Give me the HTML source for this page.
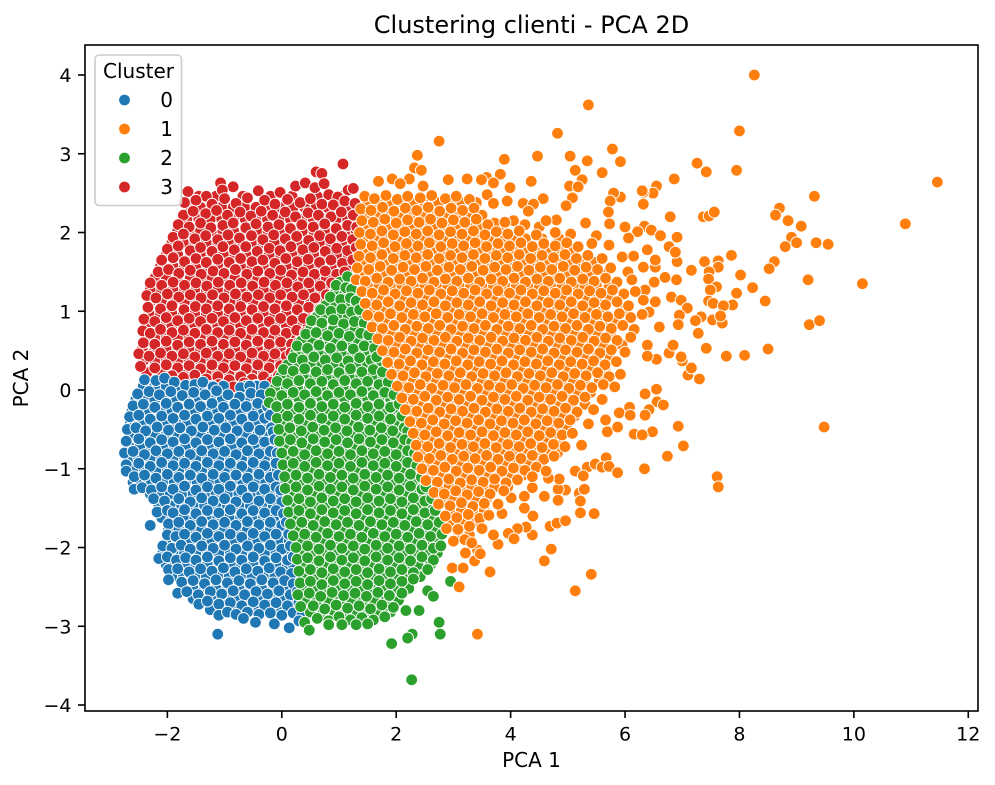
<!DOCTYPE html>
<html lang="en">
<head>
<meta charset="utf-8">
<title>Clustering clienti - PCA 2D</title>
<style>
html,body{margin:0;padding:0;background:#fff}
svg{display:block;font-family:"DejaVu Sans","Liberation Sans",sans-serif}
text{fill:#000}
</style>
</head>
<body>
<svg id="chart" width="995" height="785" viewBox="0 0 995 785">
<rect x="0" y="0" width="995" height="785" fill="#fff"/>
<g id="marks"></g>
<rect x="85" y="45" width="893" height="666" fill="none" stroke="#000" stroke-width="1.6"/>
<g id="ticks"></g>
<text x="531.5" y="33" font-size="24" text-anchor="middle">Clustering clienti - PCA 2D</text>
<text x="531.5" y="767" font-size="20" text-anchor="middle">PCA 1</text>
<text x="0" y="0" font-size="20" text-anchor="middle" transform="translate(28,378) rotate(-90)">PCA 2</text>
<g id="legend">
<rect x="95" y="55" width="86.5" height="150.5" rx="4" fill="#fff" fill-opacity="0.8" stroke="#ccc" stroke-width="1.6"/>
<text x="138.5" y="78" font-size="20" text-anchor="middle">Cluster</text>
</g>
</svg>
<script>
const xTickLabels=[-2,0,2,4,6,8,10,12];
const yTickLabels=[-4,-3,-2,-1,0,1,2,3,4];
const clusterNames=["0","1","2","3"];
const clusterColors=["#1f77b4","#ff7f0e","#2ca02c","#d62728"];
const cluster3=[[-1.07,2.63],[-.85,2.58],[-1.64,2.52],[-1.32,2.46],[-1.04,2.54],[-.41,2.53],[-.03,2.51],[.24,2.59],[.41,2.63],[.6,2.77],[.7,2.75],[.58,2.57],[.74,2.62],[1.07,2.87],[1.16,2.54],[1.25,2.56],[.82,2.48],[.98,2.45],
[-1.7,2.38],[-1.5,2.41],[-1.22,2.36],[-1.0,2.43],[-.8,2.37],[-.6,2.44],[-.3,2.41],[-.12,2.36],[.1,2.42],[.32,2.38],[.5,2.43],[.7,2.36],[.9,2.35],[1.1,2.4],[1.28,2.37],
[-1.72,2.22],[-1.55,2.27],[-1.33,2.24],[-1.14,2.28],[-.95,2.22],[-.73,2.26],[-.54,2.21],[-.36,2.27],[-.16,2.22],[.06,2.26],[.24,2.2],[.46,2.25],[.64,2.22],[.86,2.2],[1.04,2.26],[1.25,2.22],
[-1.81,2.1],[-1.62,2.07],[-1.42,2.12],[-1.24,2.06],[-1.03,2.09],[-.85,2.12],[-.63,2.06],[-.45,2.11],[-.24,2.07],[-.05,2.1],[.15,2.05],[.35,2.1],[.55,2.07],[.75,2.11],[.95,2.05],[1.15,2.09],[1.31,2.07],
[-1.9,1.94],[-1.72,1.98],[-1.52,1.92],[-1.33,1.96],[-1.12,1.91],[-.94,1.97],[-.74,1.93],[-.53,1.96],[-.33,1.91],[-.14,1.97],[.06,1.92],[.26,1.95],[.47,1.9],[.66,1.96],[.85,1.92],[1.05,1.95],[1.24,1.91],
[-2.0,1.79],[-1.81,1.83],[-1.6,1.77],[-1.42,1.81],[-1.22,1.76],[-1.03,1.82],[-.83,1.78],[-.63,1.82],[-.43,1.76],[-.22,1.8],[-.03,1.77],[.16,1.82],[.37,1.78],[.56,1.81],[.76,1.76],[.96,1.8],[1.15,1.77],[1.3,1.81],
[-2.1,1.65],[-1.9,1.68],[-1.7,1.63],[-1.5,1.67],[-1.32,1.62],[-1.12,1.66],[-.92,1.62],[-.72,1.67],[-.52,1.63],[-.33,1.65],[-.12,1.61],[.07,1.67],[.27,1.63],[.46,1.66],[.66,1.62],[.86,1.65],[1.06,1.61],[1.24,1.65],
[-2.16,1.5],[-1.98,1.53],[-1.8,1.48],[-1.6,1.52],[-1.41,1.47],[-1.2,1.51],[-1.01,1.48],[-.81,1.53],[-.61,1.47],[-.42,1.51],[-.21,1.48],[-.02,1.52],[.17,1.46],[.37,1.5],[.57,1.47],[.76,1.51],[.96,1.47],[1.1,1.5],
[-2.3,1.36],[-2.1,1.33],[-1.9,1.37],[-1.7,1.33],[-1.5,1.36],[-1.31,1.32],[-1.11,1.37],[-.91,1.33],[-.71,1.36],[-.51,1.32],[-.31,1.37],[-.11,1.33],[.09,1.36],[.28,1.31],[.47,1.36],[.67,1.32],[.87,1.36],
[-2.36,1.2],[-2.2,1.17],[-2.0,1.22],[-1.8,1.18],[-1.6,1.21],[-1.41,1.17],[-1.21,1.21],[-1.01,1.17],[-.81,1.22],[-.61,1.18],[-.41,1.21],[-.21,1.17],[-.02,1.21],[.18,1.18],[.38,1.21],[.58,1.17],[.78,1.21],
[-2.34,1.05],[-2.12,1.03],[-1.92,1.07],[-1.71,1.02],[-1.51,1.06],[-1.32,1.03],[-1.12,1.07],[-.92,1.03],[-.72,1.06],[-.52,1.02],[-.32,1.06],[-.12,1.03],[.08,1.07],[.27,1.02],[.47,1.05],[.66,1.03],
[-2.41,.9],[-2.22,.87],[-2.02,.92],[-1.82,.88],[-1.62,.91],[-1.42,.87],[-1.22,.91],[-1.02,.87],[-.82,.92],[-.62,.88],[-.42,.91],[-.22,.87],[-.02,.91],[.18,.88],[.38,.91],[.53,.87],
[-2.43,.75],[-2.3,.72],[-2.12,.77],[-1.92,.73],[-1.72,.76],[-1.52,.72],[-1.32,.77],[-1.12,.73],[-.92,.76],[-.72,.72],[-.52,.77],[-.32,.73],[-.12,.76],[.08,.72],[.26,.76],[.41,.73],
[-2.42,.6],[-2.22,.58],[-2.02,.62],[-1.82,.57],[-1.62,.61],[-1.42,.58],[-1.22,.62],[-1.02,.58],[-.82,.61],[-.62,.57],[-.42,.62],[-.22,.58],[-.02,.61],[.17,.58],[.3,.61],
[-2.5,.46],[-2.32,.43],[-2.12,.47],[-1.92,.43],[-1.72,.46],[-1.52,.42],[-1.32,.47],[-1.12,.43],[-.92,.46],[-.72,.42],[-.52,.47],[-.32,.43],[-.12,.46],[.08,.43],[.16,.47],
[-2.47,.3],[-2.22,.28],[-2.02,.32],[-1.82,.28],[-1.62,.31],[-1.42,.27],[-1.22,.32],[-1.02,.28],[-.82,.31],[-.62,.27],[-.42,.32],[-.22,.28],[-.02,.31],[.06,.27],
[-1.92,.18],[-1.72,.16],[-1.52,.19],[-1.32,.14],[-1.12,.17],[-.92,.13],[-.72,.17],[-.52,.14],[-.32,.17],[-.12,.14],[-.06,.18],
[-1.1,.07],[-.85,.04],[-.66,.09],[-.45,.06],[-.25,.03],[-.18,.1]];
const cluster3Rows=[[2.46,-1.45,-1.15,-.68,-.2,.18,.62,1.05],
[2.32,-1.62,-1.42,-1.22,-1.05,-.85,-.65,-.45,-.22,-.02,.2,.4,.6,.8,1.0,1.2],
[2.17,-1.66,-1.45,-1.25,-1.05,-.84,-.64,-.45,-.25,-.05,.15,.35,.55,.75,.95,1.15,1.3],
[2.02,-1.82,-1.62,-1.42,-1.23,-1.03,-.84,-.63,-.43,-.24,-.04,.16,.36,.56,.76,.95,1.15,1.3],
[1.87,-1.92,-1.72,-1.52,-1.32,-1.12,-.93,-.73,-.53,-.33,-.13,.07,.27,.47,.66,.86,1.06,1.25],
[1.72,-2.02,-1.82,-1.6,-1.42,-1.22,-1.02,-.82,-.62,-.42,-.22,-.02,.18,.38,.56,.76,.96,1.16,1.28],
[1.57,-2.12,-1.9,-1.7,-1.5,-1.3,-1.1,-.92,-.72,-.52,-.32,-.12,.08,.28,.47,.67,.87,1.07,1.2],
[1.42,-2.22,-2.02,-1.82,-1.6,-1.42,-1.22,-1.02,-.82,-.62,-.42,-.22,-.02,.18,.38,.58,.78,.96],
[1.27,-2.3,-2.1,-1.9,-1.7,-1.5,-1.32,-1.12,-.92,-.72,-.52,-.32,-.12,.08,.28,.48,.68,.85],
[1.12,-2.3,-2.1,-1.9,-1.7,-1.5,-1.3,-1.1,-.9,-.7,-.5,-.3,-.1,.1,.3,.5,.7],
[.97,-2.32,-2.12,-1.92,-1.72,-1.52,-1.32,-1.12,-.92,-.72,-.52,-.32,-.12,.08,.28,.48,.6],
[.82,-2.36,-2.12,-1.92,-1.72,-1.52,-1.32,-1.12,-.92,-.72,-.52,-.32,-.12,.08,.28,.46],
[.67,-2.38,-2.2,-2.02,-1.82,-1.62,-1.42,-1.22,-1.02,-.82,-.62,-.42,-.22,-.02,.18,.34],
[.52,-2.44,-2.22,-2.02,-1.82,-1.62,-1.42,-1.22,-1.02,-.82,-.62,-.42,-.22,-.02,.18],
[.37,-2.42,-2.22,-2.02,-1.82,-1.62,-1.42,-1.22,-1.02,-.82,-.62,-.42,-.22,-.02,.1],
[.22,-2.36,-2.12,-1.92,-1.72,-1.52,-1.32,-1.12,-.92,-.72,-.52,-.32,-.12,0],
[.1,-1.55,-1.3,-1.0,-.76,-.56,-.36,-.14]];
const cluster0=[[-2.4,.13],[-2.2,.12],[-2.05,.15],[-1.88,.1],[-1.68,.06],[-1.52,.07],[-1.38,.1],[-1.2,.04],
[-.72,.03],[-.56,.05],[-2.52,-.05],[-2.32,-.02],[-2.14,-.06],[-1.94,-.02],[-1.74,-.07],[-1.54,-.03],[-1.34,-.06],[-1.14,-.01],[-.94,-.06],[-.74,-.09],[-.54,-.04],[-.36,-.06],
[-2.6,-.2],[-2.42,-.18],[-2.22,-.22],[-2.02,-.17],[-1.82,-.22],[-1.62,-.18],[-1.42,-.21],[-1.22,-.17],[-1.02,-.22],[-.82,-.18],[-.62,-.21],[-.42,-.17],[-.25,-.21],
[-2.66,-.34],[-2.5,-.32],[-2.3,-.37],[-2.1,-.33],[-1.9,-.36],[-1.7,-.32],[-1.5,-.37],[-1.3,-.33],[-1.1,-.36],[-.9,-.32],[-.7,-.37],[-.5,-.33],[-.3,-.36],[-.2,-.32],
[-2.7,-.5],[-2.55,-.48],[-2.38,-.52],[-2.18,-.47],[-1.98,-.51],[-1.78,-.48],[-1.58,-.52],[-1.38,-.47],[-1.18,-.51],[-.98,-.48],[-.78,-.52],[-.58,-.47],[-.38,-.51],[-.18,-.48],[-.15,-.53],
[-2.72,-.65],[-2.5,-.62],[-2.3,-.67],[-2.1,-.63],[-1.9,-.66],[-1.7,-.62],[-1.5,-.67],[-1.3,-.63],[-1.1,-.66],[-.9,-.62],[-.7,-.67],[-.5,-.63],[-.3,-.66],[-.12,-.63],
[-2.75,-.8],[-2.6,-.78],[-2.4,-.82],[-2.2,-.77],[-2.0,-.81],[-1.8,-.78],[-1.6,-.82],[-1.4,-.77],[-1.2,-.81],[-1.0,-.78],[-.8,-.82],[-.6,-.77],[-.4,-.81],[-.2,-.78],[-.08,-.8],
[-2.72,-.95],[-2.5,-.93],[-2.3,-.97],[-2.1,-.92],[-1.9,-.96],[-1.7,-.93],[-1.5,-.97],[-1.3,-.92],[-1.1,-.96],[-.9,-.93],[-.7,-.97],[-.5,-.92],[-.3,-.96],[-.1,-.93],
[-2.72,-1.03],[-2.58,-1.1],[-2.4,-1.08],[-2.2,-1.12],[-2.0,-1.07],[-1.8,-1.11],[-1.6,-1.08],[-1.4,-1.12],[-1.2,-1.07],[-1.0,-1.11],[-.8,-1.08],[-.6,-1.12],[-.4,-1.07],[-.2,-1.11],[-.06,-1.08],
[-2.58,-1.26],[-2.44,-1.24],[-2.28,-1.27],[-2.1,-1.23],[-1.9,-1.26],[-1.7,-1.22],[-1.5,-1.27],[-1.3,-1.23],[-1.1,-1.26],[-.9,-1.22],[-.7,-1.27],[-.5,-1.23],[-.3,-1.26],[-.1,-1.23],[-.02,-1.27],
[-2.24,-1.38],[-2.05,-1.41],[-1.8,-1.38],[-1.6,-1.42],[-1.4,-1.37],[-1.2,-1.41],[-1.0,-1.38],[-.8,-1.42],[-.6,-1.37],[-.4,-1.41],[-.2,-1.38],[0,-1.42],
[-2.18,-1.55],[-2.0,-1.53],[-1.9,-1.56],[-1.7,-1.52],[-1.5,-1.57],[-1.3,-1.53],[-1.1,-1.56],[-.9,-1.52],[-.7,-1.57],[-.5,-1.53],[-.3,-1.56],[-.1,-1.53],[.03,-1.57],
[-2.3,-1.72],[-1.98,-1.7],[-1.8,-1.68],[-1.6,-1.72],[-1.4,-1.67],[-1.2,-1.71],[-1.0,-1.68],[-.8,-1.72],[-.6,-1.67],[-.4,-1.71],[-.2,-1.68],[0,-1.72],[.08,-1.68],
[-2.0,-1.84],[-1.85,-1.86],[-1.7,-1.83],[-1.5,-1.87],[-1.3,-1.82],[-1.1,-1.86],[-.9,-1.83],[-.7,-1.87],[-.5,-1.82],[-.3,-1.86],[-.1,-1.83],[.12,-1.83],
[-2.08,-1.98],[-1.92,-2.01],[-1.76,-1.97],[-1.6,-2.02],[-1.4,-1.98],[-1.2,-2.01],[-1.0,-1.97],[-.8,-2.02],[-.6,-1.98],[-.4,-2.01],[-.2,-1.97],[0,-2.02],[.15,-1.98],
[-2.15,-2.14],[-2.0,-2.12],[-1.84,-2.16],[-1.68,-2.13],[-1.5,-2.16],[-1.3,-2.12],[-1.1,-2.17],[-.9,-2.13],[-.7,-2.16],[-.5,-2.12],[-.3,-2.17],[-.1,-2.13],[.1,-2.16],[.2,-2.12],
[-1.98,-2.28],[-1.82,-2.27],[-1.62,-2.31],[-1.42,-2.27],[-1.22,-2.3],[-1.02,-2.26],[-.82,-2.31],[-.62,-2.27],[-.42,-2.3],[-.22,-2.26],[-.02,-2.31],[.17,-2.33],
[-1.98,-2.41],[-1.75,-2.44],[-1.55,-2.42],[-1.35,-2.46],[-1.15,-2.41],[-.95,-2.45],[-.75,-2.42],[-.55,-2.46],[-.35,-2.41],[-.15,-2.45],[.05,-2.42],[.2,-2.46],
[-1.82,-2.58],[-1.66,-2.56],[-1.46,-2.6],[-1.25,-2.56],[-1.05,-2.59],[-.85,-2.55],[-.65,-2.6],[-.45,-2.56],[-.25,-2.59],[-.05,-2.55],[.15,-2.6],[.27,-2.56],
[-1.45,-2.72],[-1.3,-2.68],[-1.1,-2.72],[-.9,-2.7],[-.7,-2.74],[-.5,-2.69],[-.3,-2.73],[-.1,-2.7],[.1,-2.74],[.3,-2.7],
[-1.1,-2.86],[-.95,-2.82],[-.8,-2.85],[-.6,-2.82],[-.4,-2.85],[-.2,-2.83],[0,-2.86],[.2,-2.83],[.35,-2.86],
[-.67,-2.9],[-.46,-2.95],[-.13,-2.97],[.13,-3.02],[.3,-2.93],[-1.12,-3.1]];
const cluster0Rows=[[.05,-2.42,-2.22,-2.02,-1.82,-1.6,-1.42,-1.22,-1.02,-.62,-.44,-.3],
[-.12,-2.55,-2.42,-2.22,-2.02,-1.84,-1.64,-1.44,-1.24,-1.04,-.84,-.64,-.44,-.27],
[-.27,-2.62,-2.5,-2.32,-2.12,-1.92,-1.72,-1.52,-1.32,-1.12,-.92,-.72,-.52,-.32,-.22],
[-.42,-2.65,-2.45,-2.25,-2.05,-1.85,-1.65,-1.45,-1.25,-1.05,-.85,-.65,-.45,-.25,-.17],
[-.57,-2.65,-2.42,-2.22,-2.02,-1.82,-1.62,-1.42,-1.22,-1.02,-.82,-.62,-.42,-.22,-.13],
[-.72,-2.67,-2.48,-2.28,-2.08,-1.88,-1.68,-1.48,-1.28,-1.08,-.88,-.68,-.48,-.28,-.1],
[-.87,-2.66,-2.5,-2.3,-2.1,-1.9,-1.7,-1.5,-1.3,-1.1,-.9,-.7,-.5,-.3,-.1],
[-1.02,-2.6,-2.4,-2.2,-2.0,-1.8,-1.6,-1.4,-1.2,-1.0,-.8,-.6,-.4,-.2,-.08],
[-1.17,-2.6,-2.48,-2.28,-2.08,-1.88,-1.68,-1.48,-1.28,-1.08,-.88,-.68,-.48,-.28,-.08],
[-1.32,-2.3,-2.15,-1.95,-1.75,-1.55,-1.35,-1.15,-.95,-.75,-.55,-.35,-.15,-.01],
[-1.47,-2.15,-1.95,-1.75,-1.55,-1.35,-1.15,-.95,-.75,-.55,-.35,-.15,.02],
[-1.62,-2.1,-1.92,-1.72,-1.52,-1.32,-1.12,-.92,-.72,-.52,-.32,-.12,.06],
[-1.77,-1.98,-1.8,-1.6,-1.4,-1.2,-1.0,-.8,-.6,-.4,-.2,0,.1],
[-1.92,-2.0,-1.82,-1.62,-1.42,-1.22,-1.02,-.82,-.62,-.42,-.22,-.02,.13],
[-2.07,-2.08,-1.9,-1.7,-1.5,-1.3,-1.1,-.9,-.7,-.5,-.3,-.1,.1,.17],
[-2.22,-2.02,-1.88,-1.7,-1.5,-1.3,-1.1,-.9,-.7,-.5,-.3,-.1,.1,.2],
[-2.37,-1.92,-1.72,-1.52,-1.32,-1.12,-.92,-.72,-.52,-.32,-.12,.08,.2],
[-2.52,-1.75,-1.55,-1.35,-1.15,-.95,-.75,-.55,-.35,-.15,.05,.25],
[-2.65,-1.55,-1.35,-1.15,-.95,-.75,-.55,-.35,-.15,.05,.25],
[-2.79,-1.25,-1.0,-.8,-.6,-.4,-.2,0,.2,.33]];
const cluster2=[[1.15,1.44],[.95,1.33],[1.12,1.3],[1.22,1.28],[.85,1.18],[1.03,1.15],[1.2,1.17],[1.3,1.13],[.68,1.02],[.86,1.0],[1.05,1.03],[1.22,.99],[1.36,1.02],
[.52,.88],[.7,.85],[.9,.89],[1.08,.84],[1.27,.87],[1.44,.85],[.42,.71],[.6,.73],[.8,.69],[1.0,.72],[1.18,.68],[1.38,.72],[1.52,.7],
[.27,.56],[.45,.53],[.65,.57],[.85,.53],[1.05,.56],[1.25,.52],[1.44,.56],[1.62,.53],[.2,.41],[.36,.38],[.56,.42],[.76,.38],[.96,.41],[1.16,.37],[1.36,.41],[1.56,.38],[1.66,.42],
[0.03,.26],[.2,.24],[.4,.27],[.6,.23],[.8,.26],[1.0,.22],[1.2,.27],[1.4,.23],[1.6,.26],[1.76,.23],[-.08,.11],[.1,.08],[.3,.12],[.5,.08],[.7,.11],[.9,.07],[1.1,.12],[1.3,.08],[1.5,.11],[1.7,.07],[1.86,.1],
[-.2,-.04],[0,-.07],[.2,-.03],[.4,-.06],[.6,-.02],[.8,-.07],[1.0,-.03],[1.2,-.06],[1.4,-.02],[1.6,-.07],[1.8,-.03],[1.96,-.06],
[-.22,-.16],[-.09,-.21],[.1,-.18],[.3,-.22],[.5,-.17],[.7,-.21],[.9,-.18],[1.1,-.22],[1.3,-.17],[1.5,-.21],[1.7,-.18],[1.9,-.22],[2.05,-.18],
[-.08,-.36],[.1,-.33],[.3,-.37],[.5,-.32],[.7,-.36],[.9,-.33],[1.1,-.37],[1.3,-.32],[1.5,-.36],[1.7,-.33],[1.9,-.37],[2.1,-.33],
[-.05,-.5],[.14,-.48],[.34,-.52],[.54,-.47],[.74,-.51],[.94,-.48],[1.14,-.52],[1.34,-.47],[1.54,-.51],[1.74,-.48],[1.94,-.52],[2.14,-.48],[2.2,-.52],
[-.04,-.65],[.15,-.63],[.35,-.67],[.55,-.62],[.75,-.66],[.95,-.63],[1.15,-.67],[1.35,-.62],[1.55,-.66],[1.75,-.63],[1.95,-.67],[2.15,-.63],[2.27,-.66],
[0,-.8],[.2,-.78],[.4,-.82],[.6,-.77],[.8,-.81],[1.0,-.78],[1.2,-.82],[1.4,-.77],[1.6,-.81],[1.8,-.78],[2.0,-.82],[2.2,-.77],[2.32,-.8],
[.02,-.95],[.2,-.93],[.4,-.97],[.6,-.92],[.8,-.96],[1.0,-.93],[1.2,-.97],[1.4,-.92],[1.6,-.96],[1.8,-.93],[2.0,-.97],[2.2,-.92],[2.36,-.96],
[.05,-1.1],[.25,-1.08],[.45,-1.12],[.65,-1.07],[.85,-1.11],[1.05,-1.08],[1.25,-1.12],[1.45,-1.07],[1.65,-1.11],[1.85,-1.08],[2.05,-1.12],[2.25,-1.07],[2.44,-1.11],
[.06,-1.25],[.25,-1.23],[.45,-1.27],[.65,-1.22],[.85,-1.26],[1.05,-1.23],[1.25,-1.27],[1.45,-1.22],[1.65,-1.26],[1.85,-1.23],[2.05,-1.27],[2.25,-1.22],[2.45,-1.26],[2.52,-1.23],
[.1,-1.4],[.3,-1.38],[.5,-1.42],[.7,-1.37],[.9,-1.41],[1.1,-1.38],[1.3,-1.42],[1.5,-1.37],[1.7,-1.41],[1.9,-1.38],[2.1,-1.42],[2.3,-1.37],[2.5,-1.41],[2.62,-1.38],
[.12,-1.55],[.3,-1.53],[.5,-1.57],[.7,-1.52],[.9,-1.56],[1.1,-1.53],[1.3,-1.57],[1.5,-1.52],[1.7,-1.56],[1.9,-1.53],[2.1,-1.57],[2.3,-1.52],[2.5,-1.56],[2.68,-1.53],
[.15,-1.7],[.35,-1.68],[.55,-1.72],[.75,-1.67],[.95,-1.71],[1.15,-1.68],[1.35,-1.72],[1.55,-1.67],[1.75,-1.71],[1.95,-1.68],[2.15,-1.72],[2.35,-1.67],[2.55,-1.71],[2.75,-1.68],
[.2,-1.85],[.4,-1.83],[.6,-1.87],[.8,-1.82],[1.0,-1.86],[1.2,-1.83],[1.4,-1.87],[1.6,-1.82],[1.8,-1.86],[2.0,-1.83],[2.2,-1.87],[2.4,-1.82],[2.6,-1.86],[2.8,-1.83],
[.25,-2.0],[.45,-1.98],[.65,-2.02],[.85,-1.97],[1.05,-2.01],[1.25,-1.98],[1.45,-2.02],[1.65,-1.97],[1.85,-2.01],[2.05,-1.98],[2.25,-2.02],[2.45,-1.97],[2.65,-2.01],[2.78,-1.98],
[.27,-2.15],[.45,-2.13],[.65,-2.17],[.85,-2.12],[1.05,-2.16],[1.25,-2.13],[1.45,-2.17],[1.65,-2.12],[1.85,-2.16],[2.05,-2.13],[2.25,-2.17],[2.45,-2.12],[2.65,-2.16],
[.3,-2.3],[.5,-2.28],[.7,-2.32],[.9,-2.27],[1.1,-2.31],[1.3,-2.28],[1.5,-2.32],[1.7,-2.27],[1.9,-2.31],[2.1,-2.28],[2.3,-2.32],[2.55,-2.28],
[.32,-2.45],[.5,-2.43],[.7,-2.47],[.9,-2.42],[1.1,-2.46],[1.3,-2.43],[1.5,-2.47],[1.7,-2.42],[1.9,-2.46],[2.1,-2.43],[2.3,-2.4],[2.95,-2.43],
[.28,-2.6],[.48,-2.58],[.68,-2.62],[.88,-2.57],[1.08,-2.61],[1.28,-2.58],[1.48,-2.62],[1.68,-2.57],[1.88,-2.61],[2.1,-2.58],[2.55,-2.55],[2.65,-2.62],
[.33,-2.75],[.55,-2.74],[.75,-2.78],[.95,-2.73],[1.15,-2.77],[1.35,-2.74],[1.55,-2.78],[1.75,-2.73],[1.95,-2.76],[2.17,-2.8],[2.4,-2.8],
[.4,-2.95],[.62,-2.9],[.82,-2.93],[1.0,-2.88],[1.2,-2.92],[1.4,-2.89],[1.6,-2.92],[1.8,-2.88],[.48,-3.05],[.82,-2.98],[1.05,-2.98],[1.3,-2.98],[1.5,-2.97],
[2.75,-2.95],[2.77,-3.1],[2.28,-3.1],[2.2,-3.15],[1.92,-3.22],[2.27,-3.68]];
const cluster2Rows=[[1.37,1.02,1.18],
[1.22,.92,1.1,1.26],
[1.07,.76,.94,1.12,1.3],
[.92,.6,.78,.98,1.16,1.36],
[.77,.5,.7,.9,1.08,1.28,1.46],
[.62,.34,.54,.74,.94,1.14,1.34,1.54],
[.47,.24,.44,.64,.84,1.04,1.24,1.44,1.64],
[.32,.1,.3,.5,.7,.9,1.1,1.3,1.5,1.7],
[.17,-.02,.18,.38,.58,.78,.98,1.18,1.38,1.58,1.78],
[.02,-.12,.08,.28,.48,.68,.88,1.08,1.28,1.48,1.68,1.88],
[-.11,-.12,.1,.3,.5,.7,.9,1.1,1.3,1.5,1.7,1.9,2.0],
[-.27,-.02,.18,.38,.58,.78,.98,1.18,1.38,1.58,1.78,1.98,2.08],
[-.42,.02,.2,.4,.6,.8,1.0,1.2,1.4,1.6,1.8,2.0,2.17],
[-.57,.04,.24,.44,.64,.84,1.04,1.24,1.44,1.64,1.84,2.04,2.22],
[-.72,.06,.26,.46,.66,.86,1.06,1.26,1.46,1.66,1.86,2.06,2.28],
[-.87,.1,.3,.5,.7,.9,1.1,1.3,1.5,1.7,1.9,2.1,2.3],
[-1.02,.1,.3,.5,.7,.9,1.1,1.3,1.5,1.7,1.9,2.1,2.32],
[-1.17,.14,.34,.54,.74,.94,1.14,1.34,1.54,1.74,1.94,2.14,2.36,2.48],
[-1.32,.16,.36,.56,.76,.96,1.16,1.36,1.56,1.76,1.96,2.16,2.36,2.56],
[-1.47,.2,.4,.6,.8,1.0,1.2,1.4,1.6,1.8,2.0,2.2,2.4,2.62],
[-1.62,.22,.42,.62,.82,1.02,1.22,1.42,1.62,1.82,2.02,2.22,2.42,2.64],
[-1.77,.25,.45,.65,.85,1.05,1.25,1.45,1.65,1.85,2.05,2.25,2.45,2.68],
[-1.92,.3,.5,.7,.9,1.1,1.3,1.5,1.7,1.9,2.1,2.3,2.5,2.72],
[-2.07,.35,.55,.75,.95,1.15,1.35,1.55,1.75,1.95,2.15,2.35,2.55,2.72],
[-2.22,.38,.58,.78,.98,1.18,1.38,1.58,1.78,1.98,2.18,2.38,2.6],
[-2.37,.4,.6,.8,1.0,1.2,1.4,1.6,1.8,2.0,2.2,2.42],
[-2.52,.38,.6,.8,1.0,1.2,1.4,1.6,1.8,2.0,2.22],
[-2.67,.4,.62,.82,1.02,1.22,1.42,1.62,1.82,2.04],
[-2.82,.5,.72,.92,1.12,1.32,1.52,1.72,1.9]];
const cluster1=[[8.26,4.0],[8.0,3.29],[7.26,2.88],[7.42,2.77],[7.95,2.79],[11.46,2.64],[6.86,2.68],[6.55,2.59],[6.49,2.5],[6.32,2.51],[6.32,2.36],[9.31,2.46],[10.9,2.11],[8.7,2.31],[8.63,2.22],[8.85,2.15],[9.08,2.08],[8.91,1.94],[9.0,1.87],[8.8,1.82],[9.34,1.87],[9.55,1.85],[6.79,2.2],[7.37,2.2],[7.47,2.21],[7.56,2.26],[7.86,1.71],[8.61,1.63],[8.52,1.54],[9.2,1.4],[10.15,1.35],[8.02,1.46],[8.23,1.3],[8.45,1.13],[7.95,1.23],[7.88,1.08],[9.22,.83],[9.4,.88],[8.5,.52],[8.09,.44],[7.77,.43],[7.42,.53],[9.48,-.47],[6.93,-.46],[7.02,-.71],[6.74,-.84],[6.48,-.53],[7.61,-1.1],[7.63,-1.23],[6.34,-1.0],[6.55,.01],[6.35,-.05],[6.56,-.15],[6.67,-.19],[6.42,-.25],[6.35,-.32],[7.1,.19],[7.3,.14],[7.16,.28],[7.0,.37],[6.98,.42],[6.77,.47],[6.84,.57],[6.55,.39],[6.39,.57],[6.39,.43],
[7.39,1.63],[7.63,1.64],[7.63,1.56],[7.47,1.5],[7.46,1.41],[7.6,1.31],[7.49,1.27],[7.16,1.52],[6.91,1.63],[6.9,1.4],[6.7,1.43],[6.53,1.56],[6.51,1.37],[7.46,1.13],[7.54,1.1],[7.72,1.07],[6.81,1.18],[6.98,1.14],[7.09,1.04],[6.95,.95],[6.93,.83],[6.6,.8],[6.53,1.12],[6.42,.99],[7.33,.93],[7.23,.88],[7.53,.89],[7.7,.85],[7.28,.72],[7.67,.94],[6.34,2.08],[6.46,2.03],[6.62,1.96],[6.91,1.94],[6.77,1.82],[6.39,1.78],[6.88,1.75],[6.53,1.65],[6.32,1.56],[6.35,1.27],[6.32,1.14],
[5.46,-1.57],[5.22,-1.56],[5.41,-2.34],[5.13,-2.55],[4.69,-1.73],[4.81,-1.69],[4.96,-1.66],[4.71,-2.02],[4.59,-2.17],[4.39,-1.6],[4.38,-1.84],[4.27,-1.74],[4.12,-1.76],[3.96,-1.82],[4.06,-1.89],[3.78,-1.96],[3.7,-1.84],[3.64,-2.31],[3.42,-3.1],[3.1,-2.5],[2.98,-2.26],[3.17,-2.26],[3.37,-2.17],[3.42,-2.03],[3.21,-2.07],[3.47,-2.08],[5.13,-1.03],[5.34,-.98],[5.48,-.94],[5.67,-.86],[5.6,-.98],[5.72,-.97],[5.87,-1.05],[5.27,-1.09],[5.2,-1.31],[5.29,-1.26],[5.22,-1.41],[4.96,-1.27],[4.83,-1.26],[4.83,-1.4],[4.59,-1.35],[4.38,-1.24],[4.24,-1.35],[4.24,-1.5],[4.01,-1.37],[3.85,-1.57],[4.85,-1.13],[4.66,-1.12],[6.16,-.56],[6.3,-.57],[6.08,-.22],[5.24,-.7],[4.82,-.8],[5.69,-.53],[5.87,-.47],[5.66,-.38],[5.36,-.43],[5.9,-.29],[6.09,-.32],
[5.36,3.62],[2.75,3.16],[4.82,3.26],[2.37,2.98],[2.32,2.82],[2.44,2.79],[5.78,3.06],[5.92,2.9],[5.6,2.76],[5.04,2.97],[5.34,2.91],[4.47,2.97],[3.89,2.93],[5.13,2.79],[5.25,2.67],[5.03,2.59],[5.18,2.58],[3.82,2.74],[3.58,2.7],[3.49,2.67],[3.7,2.63],[3.99,2.57],[4.36,2.65],[3.24,2.68],[2.91,2.67],[1.69,2.65],[1.93,2.68],[2.23,2.68],[2.07,2.62],[2.47,2.59],[6.3,2.53],[5.92,2.45],[5.8,2.5],[5.74,2.4],[4.57,2.43],[4.22,2.37],[4.4,2.36],[4.31,2.27],[3.94,2.4],[3.59,2.48],[3.7,2.37],[5.08,2.44],[4.97,2.34],[5.71,2.26],[4.05,2.15],[3.72,2.12],[4.8,2.16],[4.62,2.15],[5.31,2.12],[5.73,2.11],[6.0,2.07],[6.22,2.01],[6.06,1.93],[5.95,1.69],
[1.45,2.46],[1.62,2.43],[1.82,2.47],[2.02,2.42],[2.2,2.46],[2.42,2.44],[2.62,2.47],[2.86,2.43],[3.05,2.46],[3.28,2.42],
[1.38,2.3],[1.56,2.28],[1.76,2.32],[1.96,2.27],[2.16,2.31],[2.36,2.28],[2.56,2.32],[2.76,2.27],[2.96,2.31],[3.16,2.28],[3.36,2.31],
[1.4,2.15],[1.6,2.13],[1.8,2.17],[2.0,2.12],[2.2,2.16],[2.4,2.13],[2.6,2.17],[2.8,2.12],[3.0,2.16],[3.2,2.13],[3.4,2.17],[3.6,2.1],[3.9,2.13],[4.25,2.1],
[1.36,2.0],[1.55,1.98],[1.75,2.02],[1.95,1.97],[2.15,2.01],[2.35,1.98],[2.55,2.02],[2.75,1.97],[2.95,2.01],[3.15,1.98],[3.35,2.02],[3.55,1.97],[3.75,2.01],[3.95,1.98],[4.15,2.02],[4.45,1.97],[4.78,2.0],[5.05,1.98],[5.5,1.96],
[1.38,1.85],[1.58,1.83],[1.78,1.87],[1.98,1.82],[2.18,1.86],[2.38,1.83],[2.58,1.87],[2.78,1.82],[2.98,1.86],[3.18,1.83],[3.38,1.87],[3.58,1.82],[3.78,1.86],[3.98,1.83],[4.18,1.87],[4.38,1.82],[4.58,1.86],[4.78,1.83],[4.98,1.87],[5.18,1.82],[5.42,1.86],[5.72,1.84],
[1.35,1.7],[1.55,1.68],[1.75,1.72],[1.95,1.67],[2.15,1.71],[2.35,1.68],[2.55,1.72],[2.75,1.67],[2.95,1.71],[3.15,1.68],[3.35,1.72],[3.55,1.67],[3.75,1.71],[3.95,1.68],[4.15,1.72],[4.35,1.67],[4.55,1.71],[4.75,1.68],[4.95,1.72],[5.15,1.67],[5.35,1.71],[5.6,1.67],[6.15,1.7],
[1.32,1.55],[1.52,1.53],[1.72,1.57],[1.92,1.52],[2.12,1.56],[2.32,1.53],[2.52,1.57],[2.72,1.52],[2.92,1.56],[3.12,1.53],[3.32,1.57],[3.52,1.52],[3.72,1.56],[3.92,1.53],[4.12,1.57],[4.32,1.52],[4.52,1.56],[4.72,1.53],[4.92,1.57],[5.12,1.52],[5.32,1.56],[5.52,1.53],[5.75,1.55],[6.05,1.5],
[1.3,1.4],[1.46,1.38],[1.66,1.42],[1.86,1.37],[2.06,1.41],[2.26,1.38],[2.46,1.42],[2.66,1.37],[2.86,1.41],[3.06,1.38],[3.26,1.42],[3.46,1.37],[3.66,1.41],[3.86,1.38],[4.06,1.42],[4.26,1.37],[4.46,1.41],[4.66,1.38],[4.86,1.42],[5.06,1.37],[5.26,1.41],[5.46,1.38],[5.66,1.42],[5.86,1.37],[6.12,1.4],
[1.4,1.25],[1.58,1.23],[1.78,1.27],[1.98,1.22],[2.18,1.26],[2.38,1.23],[2.58,1.27],[2.78,1.22],[2.98,1.26],[3.18,1.23],[3.38,1.27],[3.58,1.22],[3.78,1.26],[3.98,1.23],[4.18,1.27],[4.38,1.22],[4.58,1.26],[4.78,1.23],[4.98,1.27],[5.18,1.22],[5.38,1.26],[5.58,1.23],[5.78,1.27],[5.98,1.22],[6.18,1.25],
[1.46,1.1],[1.66,1.08],[1.86,1.12],[2.06,1.07],[2.26,1.11],[2.46,1.08],[2.66,1.12],[2.86,1.07],[3.06,1.11],[3.26,1.08],[3.46,1.12],[3.66,1.07],[3.86,1.11],[4.06,1.08],[4.26,1.12],[4.46,1.07],[4.66,1.11],[4.86,1.08],[5.06,1.12],[5.26,1.07],[5.46,1.11],[5.66,1.08],[5.86,1.12],[6.06,1.07],
[1.5,.95],[1.7,.93],[1.9,.97],[2.1,.92],[2.3,.96],[2.5,.93],[2.7,.97],[2.9,.92],[3.1,.96],[3.3,.93],[3.5,.97],[3.7,.92],[3.9,.96],[4.1,.93],[4.3,.97],[4.5,.92],[4.7,.96],[4.9,.93],[5.1,.97],[5.3,.92],[5.5,.96],[5.7,.93],[5.9,.97],[6.1,.92],[6.3,.96],
[1.58,.8],[1.76,.78],[1.96,.82],[2.16,.77],[2.36,.81],[2.56,.78],[2.76,.82],[2.96,.77],[3.16,.81],[3.36,.78],[3.56,.82],[3.76,.77],[3.96,.81],[4.16,.78],[4.36,.82],[4.56,.77],[4.76,.81],[4.96,.78],[5.16,.82],[5.36,.77],[5.56,.81],[5.76,.78],[5.96,.82],[6.16,.77],
[1.68,.65],[1.86,.63],[2.06,.67],[2.26,.62],[2.46,.66],[2.66,.63],[2.86,.67],[3.06,.62],[3.26,.66],[3.46,.63],[3.66,.67],[3.86,.62],[4.06,.66],[4.26,.63],[4.46,.67],[4.66,.62],[4.86,.66],[5.06,.63],[5.26,.67],[5.46,.62],[5.66,.66],[5.86,.63],[6.1,.67],
[1.76,.5],[1.96,.48],[2.16,.52],[2.36,.47],[2.56,.51],[2.76,.48],[2.96,.52],[3.16,.47],[3.36,.51],[3.56,.48],[3.76,.52],[3.96,.47],[4.16,.51],[4.36,.48],[4.56,.52],[4.76,.47],[4.96,.51],[5.16,.48],[5.36,.52],[5.56,.47],[5.76,.51],[6.0,.48],
[1.85,.35],[2.05,.33],[2.25,.37],[2.45,.32],[2.65,.36],[2.85,.33],[3.05,.37],[3.25,.32],[3.45,.36],[3.65,.33],[3.85,.37],[4.05,.32],[4.25,.36],[4.45,.33],[4.65,.37],[4.85,.32],[5.05,.36],[5.25,.33],[5.45,.37],[5.65,.32],[5.85,.36],
[1.92,.2],[2.12,.18],[2.32,.22],[2.52,.17],[2.72,.21],[2.92,.18],[3.12,.22],[3.32,.17],[3.52,.21],[3.72,.18],[3.92,.22],[4.12,.17],[4.32,.21],[4.52,.18],[4.72,.22],[4.92,.17],[5.12,.21],[5.32,.18],[5.52,.22],[5.72,.17],[5.92,.2],
[2.02,.05],[2.22,.03],[2.42,.07],[2.62,.02],[2.82,.06],[3.02,.03],[3.22,.07],[3.42,.02],[3.62,.06],[3.82,.03],[4.02,.07],[4.22,.02],[4.42,.06],[4.62,.03],[4.82,.07],[5.02,.02],[5.22,.06],[5.42,.03],[5.62,.07],[5.82,.04],
[2.1,-.1],[2.3,-.12],[2.5,-.08],[2.7,-.13],[2.9,-.09],[3.1,-.12],[3.3,-.08],[3.5,-.13],[3.7,-.09],[3.9,-.12],[4.1,-.08],[4.3,-.13],[4.5,-.09],[4.7,-.12],[4.9,-.08],[5.1,-.13],[5.3,-.09],[5.6,-.12],
[2.16,-.25],[2.36,-.27],[2.56,-.23],[2.76,-.28],[2.96,-.24],[3.16,-.27],[3.36,-.23],[3.56,-.28],[3.76,-.24],[3.96,-.27],[4.16,-.23],[4.36,-.28],[4.56,-.24],[4.76,-.27],[4.96,-.23],[5.16,-.28],[5.45,-.25],
[2.24,-.4],[2.44,-.42],[2.64,-.38],[2.84,-.43],[3.04,-.39],[3.24,-.42],[3.44,-.38],[3.64,-.43],[3.84,-.39],[4.04,-.42],[4.24,-.38],[4.44,-.43],[4.64,-.39],[4.84,-.42],[5.04,-.38],
[2.3,-.55],[2.5,-.57],[2.7,-.53],[2.9,-.58],[3.1,-.54],[3.3,-.57],[3.5,-.53],[3.7,-.58],[3.9,-.54],[4.1,-.57],[4.3,-.53],[4.5,-.58],[4.7,-.54],[4.9,-.57],[5.08,-.55],
[2.35,-.7],[2.55,-.72],[2.75,-.68],[2.95,-.73],[3.15,-.69],[3.35,-.72],[3.55,-.68],[3.75,-.73],[3.95,-.69],[4.15,-.72],[4.35,-.68],[4.55,-.73],[4.75,-.69],[4.95,-.72],
[2.38,-.85],[2.58,-.87],[2.78,-.83],[2.98,-.88],[3.18,-.84],[3.38,-.87],[3.58,-.83],[3.78,-.88],[3.98,-.84],[4.18,-.87],[4.38,-.83],[4.58,-.88],[4.76,-.84],
[2.45,-1.0],[2.65,-1.02],[2.85,-.98],[3.05,-1.03],[3.25,-.99],[3.45,-1.02],[3.65,-.98],[3.85,-1.03],[4.05,-.99],[4.25,-1.02],[4.45,-.98],[4.62,-1.03],
[2.52,-1.15],[2.72,-1.17],[2.92,-1.13],[3.12,-1.18],[3.32,-1.14],[3.52,-1.17],[3.72,-1.13],[3.92,-1.18],[4.12,-1.14],[4.38,-1.1],
[2.66,-1.3],[2.84,-1.32],[3.04,-1.28],[3.24,-1.33],[3.44,-1.29],[3.64,-1.32],[3.88,-1.28],
[2.74,-1.45],[2.94,-1.47],[3.14,-1.43],[3.34,-1.48],[3.54,-1.44],[3.78,-1.45],
[2.86,-1.6],[3.06,-1.62],[3.26,-1.58],[3.46,-1.63],[3.62,-1.59],
[2.88,-1.76],[3.08,-1.77],[3.28,-1.73],[3.5,-1.76],
[3.0,-1.92],[3.2,-1.9],[3.32,-1.94]];
const cluster1Rows=[[2.38,1.5,1.7,1.9,2.1,2.3,2.5,2.74,2.95,3.15,3.4],
[2.22,1.46,1.66,1.86,2.06,2.26,2.46,2.66,2.86,3.06,3.26,3.5],
[2.07,1.45,1.65,1.85,2.05,2.25,2.45,2.65,2.85,3.05,3.25,3.45,3.65,3.85,4.15,4.5],
[1.92,1.46,1.66,1.86,2.06,2.26,2.46,2.66,2.86,3.06,3.26,3.46,3.66,3.86,4.06,4.26,4.55,4.85],
[1.77,1.46,1.66,1.86,2.06,2.26,2.46,2.66,2.86,3.06,3.26,3.46,3.66,3.86,4.06,4.26,4.46,4.66,4.86,5.08],
[1.62,1.45,1.65,1.85,2.05,2.25,2.45,2.65,2.85,3.05,3.25,3.45,3.65,3.85,4.05,4.25,4.45,4.65,4.85,5.05,5.25,5.48],
[1.47,1.42,1.62,1.82,2.02,2.22,2.42,2.62,2.82,3.02,3.22,3.42,3.62,3.82,4.02,4.22,4.42,4.62,4.82,5.02,5.22,5.42,5.65],
[1.32,1.5,1.7,1.9,2.1,2.3,2.5,2.7,2.9,3.1,3.3,3.5,3.7,3.9,4.1,4.3,4.5,4.7,4.9,5.1,5.3,5.5,5.72],
[1.17,1.5,1.7,1.9,2.1,2.3,2.5,2.7,2.9,3.1,3.3,3.5,3.7,3.9,4.1,4.3,4.5,4.7,4.9,5.1,5.3,5.5,5.75],
[1.02,1.58,1.76,1.96,2.16,2.36,2.56,2.76,2.96,3.16,3.36,3.56,3.76,3.96,4.16,4.36,4.56,4.76,4.96,5.16,5.36,5.6,5.96],
[.87,1.6,1.8,2.0,2.2,2.4,2.6,2.8,3.0,3.2,3.4,3.6,3.8,4.0,4.2,4.4,4.6,4.8,5.0,5.2,5.4,5.62,5.85],
[.72,1.74,1.92,2.12,2.32,2.52,2.72,2.92,3.12,3.32,3.52,3.72,3.92,4.12,4.32,4.52,4.72,4.92,5.12,5.32,5.52,5.75],
[.57,1.8,2.0,2.2,2.4,2.6,2.8,3.0,3.2,3.4,3.6,3.8,4.0,4.2,4.4,4.6,4.8,5.0,5.2,5.4,5.62,5.95],
[.42,1.88,2.08,2.28,2.48,2.68,2.88,3.08,3.28,3.48,3.68,3.88,4.08,4.28,4.48,4.68,4.88,5.08,5.28,5.5,5.74],
[.27,2.0,2.2,2.4,2.6,2.8,3.0,3.2,3.4,3.6,3.8,4.0,4.2,4.4,4.6,4.8,5.0,5.2,5.42,5.65],
[.12,2.1,2.3,2.5,2.7,2.9,3.1,3.3,3.5,3.7,3.9,4.1,4.3,4.5,4.7,4.9,5.1,5.3,5.55],
[-.03,2.18,2.38,2.58,2.78,2.98,3.18,3.38,3.58,3.78,3.98,4.18,4.38,4.58,4.78,4.98,5.18,5.4],
[-.18,2.26,2.46,2.66,2.86,3.06,3.26,3.46,3.66,3.86,4.06,4.26,4.46,4.66,4.86,5.06,5.3],
[-.33,2.3,2.5,2.7,2.9,3.1,3.3,3.5,3.7,3.9,4.1,4.3,4.5,4.7,4.9,5.12],
[-.48,2.36,2.56,2.76,2.96,3.16,3.36,3.56,3.76,3.96,4.16,4.36,4.56,4.76,4.98],
[-.63,2.42,2.62,2.82,3.02,3.22,3.42,3.62,3.82,4.02,4.22,4.42,4.62,4.84],
[-.78,2.46,2.66,2.86,3.06,3.26,3.46,3.66,3.86,4.06,4.26,4.46,4.66],
[-.93,2.52,2.72,2.92,3.12,3.32,3.52,3.72,3.92,4.12,4.32,4.52],
[-1.08,2.62,2.82,3.02,3.22,3.42,3.62,3.82,4.02,4.22],
[-1.23,2.72,2.92,3.12,3.32,3.52,3.72,3.95],
[-1.38,2.78,2.98,3.18,3.38,3.58],
[-1.53,2.94,3.14,3.34,3.54],
[-1.68,2.96,3.16,3.4],
[-1.84,3.1,3.28]];
const clusterRows=[cluster3Rows,cluster0Rows,cluster2Rows,cluster1Rows];
const clusterPoints=[cluster3,cluster0,cluster2,cluster1];
const clusterDrawIndex=[3,0,2,1];

const svgNS="http://www.w3.org/2000/svg";
const plot={left:85,right:978,top:45,bottom:711,xMin:-3.44,xMax:12.17,yMin:-4.076,yMax:4.381};
function xScale(v){return plot.left+(v-plot.xMin)/(plot.xMax-plot.xMin)*(plot.right-plot.left);}
function yScale(v){return plot.bottom-(v-plot.yMin)/(plot.yMax-plot.yMin)*(plot.bottom-plot.top);}
function make(tag,attrs){const el=document.createElementNS(svgNS,tag);for(const k in attrs){el.setAttribute(k,attrs[k]);}return el;}
const marks=document.getElementById("marks");
function drawPoint(x,y,cid){
  const c=make("circle",{cx:xScale(x).toFixed(2),cy:yScale(y).toFixed(2),r:5.9,fill:clusterColors[cid],stroke:"#fff","stroke-width":1});
  
  
  marks.appendChild(c);
}
clusterPoints.forEach(function(points,i){
  const cid=clusterDrawIndex[i];
  clusterRows[i].forEach(function(row){
    row.slice(1).forEach(function(x){drawPoint(x,row[0],cid);});
  });
  points.forEach(function(p){drawPoint(p[0],p[1],cid);});
});
const ticks=document.getElementById("ticks");
function fmt(v){return v<0?"\u2212"+Math.abs(v):String(v);}
xTickLabels.forEach(function(v){
  const x=xScale(v);
  const line=make("line",{x1:x,x2:x,y1:plot.bottom,y2:plot.bottom+7,stroke:"#000","stroke-width":1.6});
  
  
  ticks.appendChild(line);
  const t=make("text",{x:x,y:740.5,"font-size":19,"text-anchor":"middle"});
  
  
  t.textContent=fmt(v);
  ticks.appendChild(t);
});
yTickLabels.forEach(function(v){
  const y=yScale(v);
  const line=make("line",{x1:plot.left-7,x2:plot.left,y1:y,y2:y,stroke:"#000","stroke-width":1.6});
  
  
  ticks.appendChild(line);
  const t=make("text",{x:71.5,y:y+7,"font-size":19,"text-anchor":"end"});
  
  
  t.textContent=fmt(v);
  ticks.appendChild(t);
});
const legend=document.getElementById("legend");
clusterNames.forEach(function(name,i){
  const cy=100+i*29;
  const dot=make("circle",{cx:124.5,cy:cy,r:5.9,fill:clusterColors[i],stroke:"#fff","stroke-width":1});
  
  
  legend.appendChild(dot);
  const lab=make("text",{x:173,y:cy+7,"font-size":20,"text-anchor":"end"});
  
  
  lab.textContent=name;
  legend.appendChild(lab);
});
</script>
</body>
</html>
